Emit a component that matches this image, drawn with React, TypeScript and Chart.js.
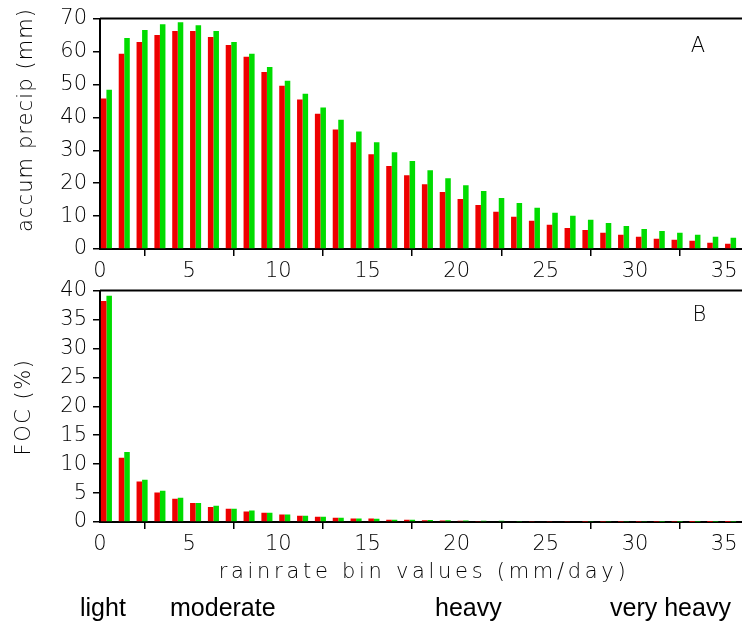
import React, { useEffect, useRef } from "react";
import { Chart, registerables } from "chart.js";

Chart.register(...registerables);

// ---------- data ----------
const bins = [0, 1, 2, 3, 4, 5, 6, 7, 8, 9, 10, 11, 12, 13, 14, 15, 16, 17, 18, 19, 20, 21, 22, 23, 24, 25, 26, 27, 28, 29, 30, 31, 32, 33, 34, 35];

const accumRed = [45.7, 59.3, 62.9, 65.0, 66.2, 66.2, 64.4, 62.0, 58.4, 53.8, 49.6, 45.4, 41.1, 36.3, 32.4, 28.8, 25.2, 22.4, 19.7, 17.3, 15.2, 13.4, 11.3, 9.8, 8.6, 7.4, 6.4, 5.8, 4.9, 4.3, 3.7, 3.1, 2.8, 2.5, 1.9, 1.6];
const accumGreen = [48.4, 64.1, 66.5, 68.3, 68.9, 68.0, 66.2, 62.9, 59.3, 55.3, 51.1, 47.2, 43.0, 39.3, 35.7, 32.4, 29.4, 26.7, 23.9, 21.5, 19.4, 17.6, 15.5, 14.0, 12.5, 11.0, 10.1, 8.9, 7.9, 7.0, 6.1, 5.5, 4.9, 4.3, 3.7, 3.4];

const focRed = [38.2, 11.1, 7.0, 5.1, 4.0, 3.3, 2.6, 2.3, 1.8, 1.6, 1.3, 1.1, 0.9, 0.75, 0.6, 0.6, 0.4, 0.4, 0.3, 0.25, 0.2, 0.18, 0.15, 0.12, 0.1, 0.08, 0.07, 0.06, 0.05, 0.04, 0.035, 0.03, 0.025, 0.02, 0.018, 0.015];
const focGreen = [39.1, 12.1, 7.3, 5.4, 4.2, 3.3, 2.8, 2.3, 2.0, 1.6, 1.3, 1.1, 0.9, 0.75, 0.6, 0.55, 0.4, 0.4, 0.35, 0.3, 0.25, 0.22, 0.2, 0.18, 0.15, 0.13, 0.12, 0.1, 0.09, 0.08, 0.07, 0.06, 0.05, 0.045, 0.04, 0.035];

const yTitleA = "accum precip (mm)";
const yTitleB = "FOC (%)";
const xTitle = "rainrate bin values (mm/day)";
const panelLabelA = "A";
const panelLabelB = "B";
const categoryLabels = ["light", "moderate", "heavy", "very heavy"];

// ---------- style ----------
const RED = "#ee0000";
const GREEN = "#00dc00";
const FONT = "'DejaVu Sans', sans-serif";
const BAR_OFFSET = 0.36;

function makeConfig(
  red: number[],
  green: number[],
  yMax: number,
  yStep: number,
  padTop: number,
  xHeight: number,
  draw: (chart: any) => void
): any {
  return {
    type: "bar",
    data: {
      datasets: [
        {
          data: bins.map((b, i) => ({ x: b + BAR_OFFSET, y: red[i] })),
          backgroundColor: RED,
          borderWidth: 0,
          categoryPercentage: 0.62,
          barPercentage: 1,
        },
        {
          data: bins.map((b, i) => ({ x: b + BAR_OFFSET, y: green[i] })),
          backgroundColor: GREEN,
          borderWidth: 0,
          categoryPercentage: 0.62,
          barPercentage: 1,
        },
      ],
    },
    options: {
      animation: false,
      responsive: false,
      maintainAspectRatio: false,
      layout: { padding: { top: padTop, left: 0, right: 0, bottom: 0 } },
      plugins: { legend: { display: false }, tooltip: { enabled: false } },
      scales: {
        x: {
          type: "linear",
          min: 0,
          max: 36,
          offset: false,
          z: 1,
          grid: {
            display: true,
            drawOnChartArea: false,
            drawTicks: true,
            tickLength: 7,
            color: "#000",
            lineWidth: 1.5,
          },
          border: { display: true, color: "#000", width: 2 },
          ticks: {
            stepSize: 5,
            includeBounds: false,
            autoSkip: false,
            maxRotation: 0,
            padding: 3,
            color: "#000",
            font: { family: FONT, size: 21, weight: "200" },
          },
          afterFit: (s: any) => {
            s.height = xHeight;
          },
        },
        y: {
          min: 0,
          max: yMax,
          z: 1,
          grid: {
            display: true,
            drawOnChartArea: false,
            drawTicks: true,
            tickLength: 7,
            color: "#000",
            lineWidth: 1.5,
          },
          border: { display: true, color: "#000", width: 2 },
          ticks: {
            stepSize: yStep,
            padding: 6,
            color: "#000",
            font: { family: FONT, size: 21, weight: "200" },
          },
          afterFit: (s: any) => {
            s.width = 100;
          },
        },
      },
    },
    plugins: [
      {
        id: "frame",
        afterDraw(chart: any) {
          const { ctx, chartArea } = chart;
          ctx.save();
          ctx.strokeStyle = "#000";
          ctx.lineWidth = 2;
          ctx.beginPath();
          ctx.moveTo(chartArea.left, chartArea.top);
          ctx.lineTo(chartArea.right, chartArea.top);
          ctx.stroke();
          ctx.restore();
          draw(chart);
        },
      },
    ],
  };
}

function drawText(
  ctx: CanvasRenderingContext2D,
  text: string,
  x: number,
  y: number,
  font: string,
  spacing: number,
  align: CanvasTextAlign,
  baseline: CanvasTextBaseline,
  rotate = false
) {
  ctx.save();
  ctx.fillStyle = "#000";
  ctx.font = font;
  (ctx as any).letterSpacing = spacing + "px";
  ctx.textAlign = align;
  ctx.textBaseline = baseline;
  ctx.translate(x, y);
  if (rotate) ctx.rotate(-Math.PI / 2);
  ctx.fillText(text, 0, 0);
  ctx.restore();
}

const TFONT = "200 21px " + FONT;

const configA = () =>
  makeConfig(accumRed, accumGreen, 70, 10, 17, 41, (chart: any) => {
    const { ctx, chartArea } = chart;
    drawText(ctx, yTitleA, 27, 120, TFONT, 1.1, "center", "middle", true);
    drawText(ctx, panelLabelA, chartArea.right - 44, chartArea.top + 27.5, TFONT, 0, "center", "middle");
  });

const configB = () =>
  makeConfig(focRed, focGreen, 40, 5, 25.5, 103, (chart: any) => {
    const { ctx, chartArea } = chart;
    drawText(ctx, yTitleB, 25, 142, TFONT, 1.5, "center", "middle", true);
    drawText(ctx, panelLabelB, chartArea.right - 42.5, chartArea.top + 25, TFONT, 0, "center", "middle");
    drawText(ctx, xTitle, 424, 308, TFONT, 3.7, "center", "middle");
    const catFont = "25px 'Liberation Sans', Arial, sans-serif";
    const catX = [80, 170, 435, 610];
    categoryLabels.forEach((t, i) => drawText(ctx, t, catX[i], 351, catFont, 0, "left", "alphabetic"));
  });

export default function App() {
  const refA = useRef<HTMLCanvasElement>(null);
  const refB = useRef<HTMLCanvasElement>(null);
  useEffect(() => {
    const a = new Chart(refA.current as HTMLCanvasElement, configA());
    const b = new Chart(refB.current as HTMLCanvasElement, configB());
    return () => {
      a.destroy();
      b.destroy();
    };
  }, []);
  return (
    <div
      style={{
        position: "fixed",
        left: 0,
        top: 0,
        width: 742,
        height: 625,
        background: "#fff",
        overflow: "hidden",
      }}
    >
      <canvas ref={refA} width={742} height={290} style={{ position: "absolute", left: 0, top: 0 }} />
      <canvas ref={refB} width={742} height={360} style={{ position: "absolute", left: 0, top: 265 }} />
    </div>
  );
}
